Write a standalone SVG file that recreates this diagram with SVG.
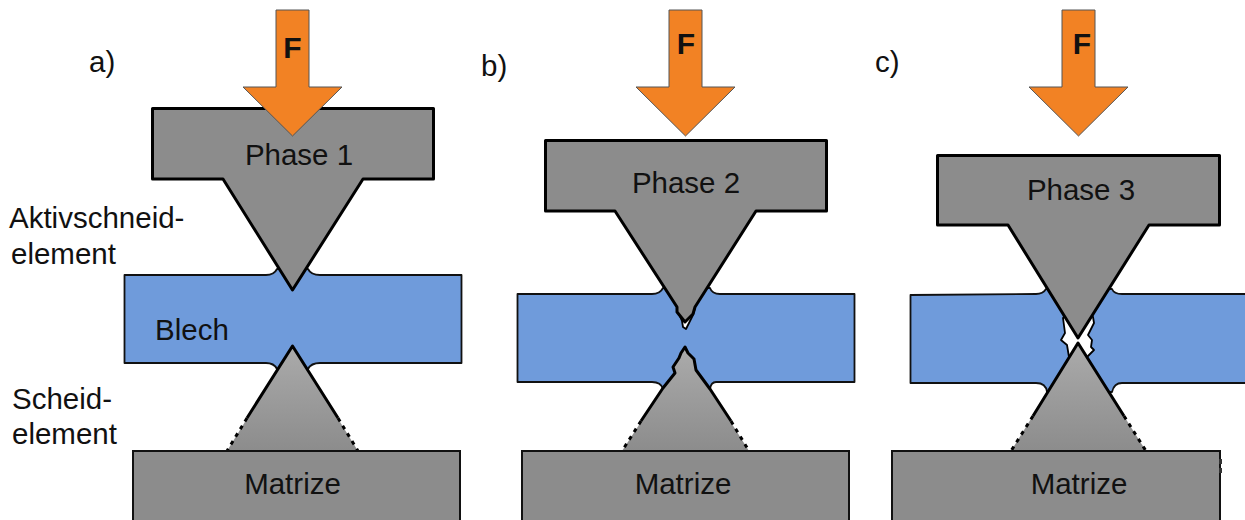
<svg xmlns="http://www.w3.org/2000/svg" width="1245" height="520" viewBox="0 0 1245 520">
<defs>
<linearGradient id="g" x1="0" y1="0" x2="0" y2="1"><stop offset="0" stop-color="#ababab"/><stop offset="1" stop-color="#8c8c8c"/></linearGradient>
<path id="arrow" class="arrow" d="M-16.500 0H16.500V77H49.500L0 126L-49.500 77H-16.500Z"/>
</defs>
<style>
text{font-family:"Liberation Sans",Arial,sans-serif;font-size:29.500px;fill:#111}
.c{text-anchor:middle}
.f{font-weight:700;font-size:30px;text-anchor:middle}
.sheet{fill:#6f9bdb;stroke:#111;stroke-width:1.800;stroke-linejoin:round}
.punch{fill:#8c8c8c;stroke:#000;stroke-width:3;stroke-linejoin:round}
.die{fill:#8c8c8c;stroke:#111;stroke-width:2}
.cone{fill:url(#g);stroke:none}
.edge{fill:none;stroke:#000;stroke-width:3;stroke-linejoin:round}
.dash{fill:none;stroke:#000;stroke-width:3;stroke-dasharray:4 5}
.arrow{fill:#f28224;stroke:#555;stroke-width:1}
.crack{fill:#fff;stroke:#000;stroke-width:1.800;stroke-linejoin:round}
</style>

<g id="panel-a">
<path class="sheet" d="M124.500 275H266Q274 275 277 269H308Q311 275 320 275H461.500V363H320Q311 363 308 369H277Q274 363 266 363H124.500Z"/>
<path class="cone" d="M292.500 345L358 451H227Z"/>
<path class="edge" d="M247 418L292.500 346L338 418"/>
<path class="dash" d="M247 418L227 451M338 418L358 451"/>
<path class="punch" d="M152.500 108.500H433.500V179H363L292.500 290L223 179H152.500Z"/>
<rect class="die" x="133" y="451" width="327" height="72"/>
<use href="#arrow" x="292.500" y="10"/>
<text class="f" x="292.500" y="58">F</text>
<text x="89" y="72">a)</text>
<text class="c" x="299" y="165">Phase 1</text>
<text x="155" y="340">Blech</text>
<text class="c" x="292.500" y="494">Matrize</text>
<text x="9" y="228">Aktivschneid-</text>
<text x="11" y="264">element</text>
<text x="12" y="409">Scheid-</text>
<text x="12" y="444">element</text>
</g>

<g id="panel-b">
<path class="sheet" d="M517.500 294H652Q660 294 663 288H710Q712 294 720 294H854.500V382H716Q711 382 710 389H663Q661 382 652 382H517.500Z"/>
<path class="cone" d="M685 347L688 353L694 359L696 370L710 389L749 451H622L663 388L675 373L673 367L679 358L681 353Z"/>
<path class="edge" d="M641 421L663 388L675 373L673 367L679 358L681 353L685 347L688 353L694 359L696 370L710 389L731 421"/>
<path class="dash" d="M641 421L622 451M731 421L749 451"/>
<path class="crack" d="M678 312L682 321L683 327L686 329L689 323L693 315L695 308Z"/>
<path class="punch" d="M545.500 140.500H826.500V211H756L695 307L693 314L685 322L677 312L677 307L615 211H545.500Z"/>
<rect class="die" x="522" y="451" width="327" height="72"/>
<use href="#arrow" x="685.500" y="10"/>
<text class="f" x="686" y="54">F</text>
<text x="481" y="76">b)</text>
<text class="c" x="686" y="193">Phase 2</text>
<text class="c" x="683" y="494">Matrize</text>
</g>

<g id="panel-c">
<path class="sheet" d="M910.500 295L1036 294Q1043 294 1046 289H1112Q1114 294 1122 294H1246V383H1122Q1114 383 1112 392H1047Q1046 383 1036 383H910.500Z"/>
<path class="crack" d="M1063 318L1065 333L1061 340L1067 345L1069 357H1087L1094 350L1091 347L1092 340L1088 335L1094 323L1093 317L1091 314H1066Z"/>
<path class="cone" d="M1078 343L1146 451H1011Z"/>
<path class="edge" d="M1033 416L1078 343L1124 416"/>
<path class="dash" d="M1033 416L1011 451M1124 416L1146 451"/>
<path class="punch" d="M937.500 155.500H1219.500V225H1149L1078 338L1008 225H937.500Z"/>
<rect class="die" x="892" y="451" width="328" height="72"/>
<rect x="1219" y="459" width="3" height="5" fill="#333"/>
<rect x="1219" y="468" width="3" height="5" fill="#333"/>
<use href="#arrow" x="1078.500" y="10"/>
<text class="f" x="1082" y="54">F</text>
<text x="875" y="72">c)</text>
<text class="c" x="1081" y="200">Phase 3</text>
<text class="c" x="1079" y="494">Matrize</text>
</g>
</svg>
